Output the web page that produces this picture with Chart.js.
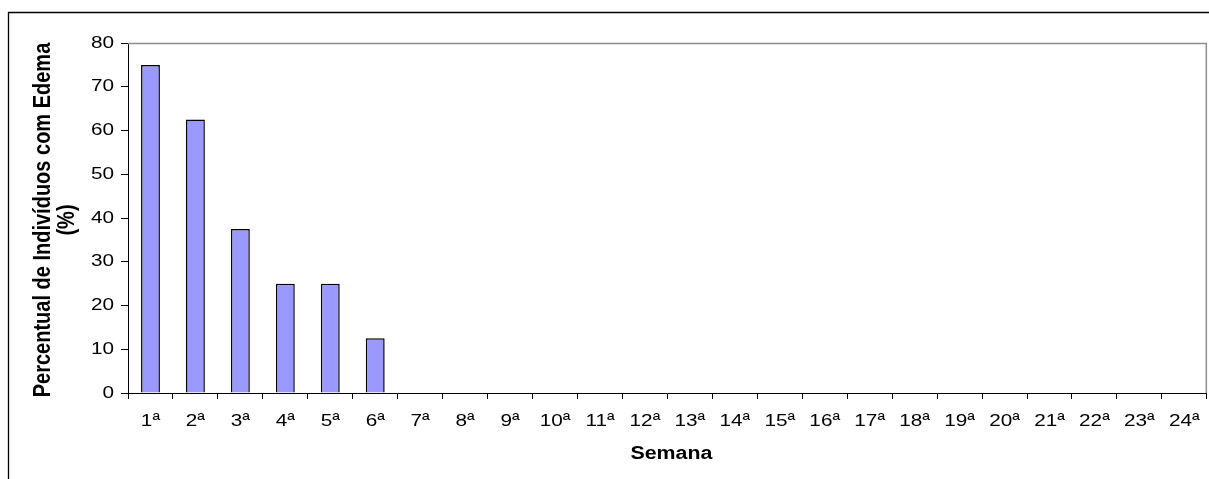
<!DOCTYPE html>
<html><head><meta charset="utf-8">
<script src="https://cdn.jsdelivr.net/npm/chart.js@4.4.1/dist/chart.umd.min.js"></script>
<style>html,body{margin:0;padding:0;background:#fff;} #wrap{position:relative;width:1209px;height:479px;} canvas{display:block;}</style>
</head><body><div id="wrap"><canvas id="c" width="1209" height="479"></canvas></div>
<script>
const categories = ['1ª','2ª','3ª','4ª','5ª','6ª','7ª','8ª','9ª','10ª','11ª','12ª','13ª','14ª','15ª','16ª','17ª','18ª','19ª','20ª','21ª','22ª','23ª','24ª'];
const values = [75, 62.5, 37.5, 25, 25, 12.5, 0, 0, 0, 0, 0, 0, 0, 0, 0, 0, 0, 0, 0, 0, 0, 0, 0, 0];
const yTicks = [0, 10, 20, 30, 40, 50, 60, 70, 80];
const yTitleLines = ['Percentual de Indivíduos com Edema', '(%)'];
const xTitle = 'Semana';

const FONT = '"Liberation Sans", Arial, sans-serif';

// the reference text is slightly wider than plain Arial: stretch glyphs horizontally around their anchor
const TEXT_SX = 1.22;
const origFill = CanvasRenderingContext2D.prototype.fillText;
CanvasRenderingContext2D.prototype.fillText = function (t, x, y, mw) {
  const m = this.getTransform();
  const p = m.transformPoint(new DOMPoint(x, y));
  this.save();
  this.setTransform(new DOMMatrix().translate(p.x, p.y).scale(TEXT_SX, 1).translate(-p.x, -p.y).multiply(m));
  if (mw === undefined) origFill.call(this, t, x, y); else origFill.call(this, t, x, y, mw);
  this.restore();
};

const decor = {
  id: 'decor',
  afterDraw(chart) {
    const ctx = chart.ctx, a = chart.chartArea;
    ctx.save();
    ctx.strokeStyle = '#000';
    ctx.lineWidth = 1.3;
    ctx.beginPath();
    ctx.moveTo(8.5, 479); ctx.lineTo(8.5, 12.5); ctx.lineTo(1209, 12.5);
    ctx.stroke();
    ctx.strokeStyle = '#8c8c8c';
    ctx.lineWidth = 1.5;
    ctx.beginPath();
    ctx.moveTo(a.left, a.top + 0.5); ctx.lineTo(a.right - 0.5, a.top + 0.5); ctx.lineTo(a.right - 0.5, a.bottom);
    ctx.stroke();
    ctx.fillStyle = '#000';
    ctx.font = 'bold 20px ' + FONT;
    ctx.textAlign = 'center';
    ctx.textBaseline = 'middle';
    const cy = (a.top + a.bottom) / 2 + 2;
    ctx.save(); ctx.translate(43, cy); ctx.rotate(-Math.PI / 2); ctx.fillText(yTitleLines[0], 0, 0); ctx.restore();
    ctx.save(); ctx.translate(67, cy); ctx.rotate(-Math.PI / 2); ctx.fillText(yTitleLines[1], 0, 0); ctx.restore();
    ctx.font = 'bold 17.5px ' + FONT;
    ctx.fillText(xTitle, (a.left + a.right) / 2 + 4, 454);
    ctx.restore();
  }
};

new Chart(document.getElementById('c'), {
  type: 'bar',
  data: {
    labels: categories,
    datasets: [{
      data: values,
      backgroundColor: '#9999FF',
      borderColor: '#000',
      borderWidth: 1.5,
      barPercentage: 0.42,
      categoryPercentage: 1
    }]
  },
  options: {
    responsive: false,
    animation: false,
    devicePixelRatio: 1,
    layout: { padding: { left: 0, top: 43, right: 2, bottom: 0 } },
    plugins: { legend: { display: false }, tooltip: { enabled: false } },
    scales: {
      x: {
        grid: { offset: true, drawOnChartArea: false, drawTicks: true, tickLength: 6, color: '#000' },
        border: { color: '#000', width: 1 },
        ticks: { color: '#000', font: { family: FONT, size: 17 }, padding: 12, maxRotation: 0, autoSkip: false },
        afterFit(s) { s.height = 86; }
      },
      y: {
        min: 0, max: 80,
        afterBuildTicks(s) { s.ticks = yTicks.map(v => ({ value: v })); },
        grid: { drawOnChartArea: false, drawTicks: true, tickLength: 7, color: '#000' },
        border: { color: '#000', width: 1 },
        ticks: { color: '#000', font: { family: FONT, size: 17 }, padding: 7 },
        afterFit(s) { s.width = 128; }
      }
    }
  },
  plugins: [decor]
});
</script>
</body></html>
